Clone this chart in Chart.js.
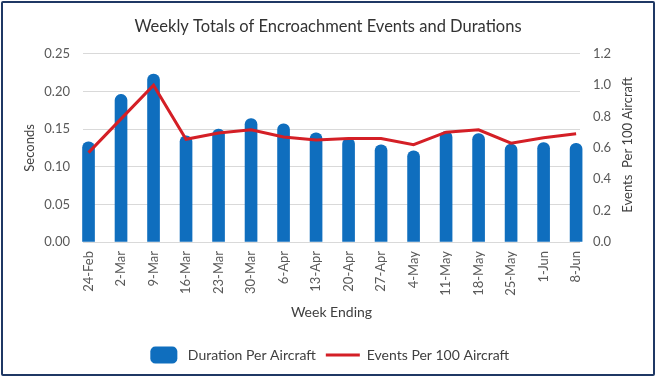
<!DOCTYPE html>
<html>
<head>
<meta charset="utf-8">
<script src="https://cdn.jsdelivr.net/npm/chart.js@4"></script>
<style>
    html, body { margin: 0; padding: 0; background: #fff; }
    #frame {
        position: absolute; left: 1px; top: 1px;
        width: 654px; height: 375px;
        box-sizing: border-box;
        border: 2px solid #1f3864;
        border-radius: 2px;
        background: #fff;
    }
    #chart { display: block; }
</style>
</head>
<body>
<div id="frame"><canvas id="chart" width="650" height="371"></canvas></div>
<script>
const weeks = ['24-Feb', '2-Mar', '9-Mar', '16-Mar', '23-Mar', '30-Mar', '6-Apr', '13-Apr',
    '20-Apr', '27-Apr', '4-May', '11-May', '18-May', '25-May', '1-Jun', '8-Jun'];
const durationPerAircraft = [0.133, 0.196, 0.223, 0.141, 0.150, 0.164, 0.157, 0.145,
    0.138, 0.129, 0.121, 0.147, 0.144, 0.130, 0.132, 0.131];
const eventsPer100 = [0.57, 0.785, 1.00, 0.655, 0.695, 0.715, 0.67, 0.65,
    0.66, 0.66, 0.62, 0.70, 0.715, 0.63, 0.665, 0.69];
const secondsTicks = [0, 0.05, 0.10, 0.15, 0.20, 0.25];
const eventsTicks = [0, 0.2, 0.4, 0.6, 0.8, 1.0, 1.2];

const FONT = 'Lato, "Open Sans", sans-serif';
const TXT = '#404040';
const TICK = '#595959';

// right axis title reads bottom-to-top like the Excel original
const rightTitle = {
    id: 'rightTitle',
    afterDraw(chart) {
        const { ctx, chartArea } = chart;
        ctx.save();
        ctx.translate(625, (chartArea.top + chartArea.bottom) / 2 - 3);
        ctx.rotate(-Math.PI / 2);
        ctx.font = '13px ' + FONT;
        ctx.fillStyle = TXT;
        ctx.textAlign = 'center';
        ctx.textBaseline = 'middle';
        ctx.fillText('Events  Per 100 Aircraft', 0, 0);
        ctx.restore();
    }
};

new Chart(document.getElementById('chart'), {
    type: 'bar',
    data: {
        datasets: [
            {
                label: 'Duration Per Aircraft',
                data: weeks.map((w, i) => ({ x: i, y: durationPerAircraft[i] })),
                backgroundColor: '#0f6ebe',
                borderWidth: 0,
                borderRadius: 6,
                borderSkipped: 'bottom',
                barThickness: 12,
                pointStyle: 'rectRounded',
                yAxisID: 'y',
                clip: false,
                order: 2
            },
            {
                type: 'line',
                label: 'Events Per 100 Aircraft',
                data: weeks.map((w, i) => ({ x: i, y: eventsPer100[i] })),
                borderColor: '#d41f26',
                backgroundColor: '#d41f26',
                borderWidth: 3,
                pointRadius: 0,
                pointStyle: 'line',
                tension: 0,
                yAxisID: 'y1',
                order: 1
            }
        ]
    },
    options: {
        responsive: false,
        animation: false,
        layout: { padding: { left: 10, right: 10, top: 0, bottom: 2 } },
        plugins: {
            tooltip: { enabled: false },
            title: {
                display: true,
                text: 'Weekly Totals of Encroachment Events and Durations',
                color: '#333',
                font: { family: FONT, size: 16.5, weight: 'normal' },
                padding: { top: 14, bottom: 17 }
            },
            legend: {
                position: 'bottom',
                labels: {
                    usePointStyle: true,
                    pointStyleWidth: 34,
                    boxHeight: 14,
                    color: TXT,
                    font: { family: FONT, size: 14 },
                    padding: 10,
                    sort: (a, b) => a.datasetIndex - b.datasetIndex
                }
            }
        },
        scales: {
            x: {
                type: 'linear',
                offset: false,
                min: -0.17,
                max: 15.12,
                grid: { display: false, drawTicks: false },
                border: { display: false },
                ticks: {
                    stepSize: 1,
                    includeBounds: false,
                    autoSkip: false,
                    minRotation: 90,
                    maxRotation: 90,
                    padding: 9,
                    color: TICK,
                    font: { family: FONT, size: 13 },
                    callback: (v) => weeks[v] ?? null
                },
                title: {
                    display: true,
                    text: 'Week Ending',
                    color: TXT,
                    font: { family: FONT, size: 14 },
                    padding: { top: 0, bottom: 17 }
                },
                afterFit: (s) => { s.height = 96; s.paddingLeft = 0; s.paddingRight = 0; }
            },
            y: {
                position: 'left',
                min: 0,
                max: 0.25,
                afterBuildTicks: (s) => { s.ticks = secondsTicks.map(v => ({ value: v })); },
                grid: { color: '#d9d9d9', lineWidth: 1, drawTicks: false },
                border: { display: false },
                ticks: {
                    padding: 13,
                    color: TICK,
                    font: { family: FONT, size: 13 },
                    callback: (v) => v.toFixed(2)
                },
                title: {
                    display: true,
                    text: 'Seconds',
                    color: TXT,
                    font: { family: FONT, size: 13 },
                    padding: { top: 9, bottom: 0 }
                },
                afterFit: (s) => { s.width = 70; }
            },
            y1: {
                position: 'right',
                min: 0,
                max: 1.2,
                afterBuildTicks: (s) => { s.ticks = eventsTicks.map(v => ({ value: v })); },
                grid: { drawOnChartArea: false, drawTicks: false },
                border: { display: false },
                ticks: {
                    padding: 13,
                    color: TICK,
                    font: { family: FONT, size: 13 },
                    callback: (v) => v.toFixed(1)
                },
                afterFit: (s) => { s.width = 63; }
            }
        }
    },
    plugins: [rightTitle]
});
</script>
</body>
</html>
